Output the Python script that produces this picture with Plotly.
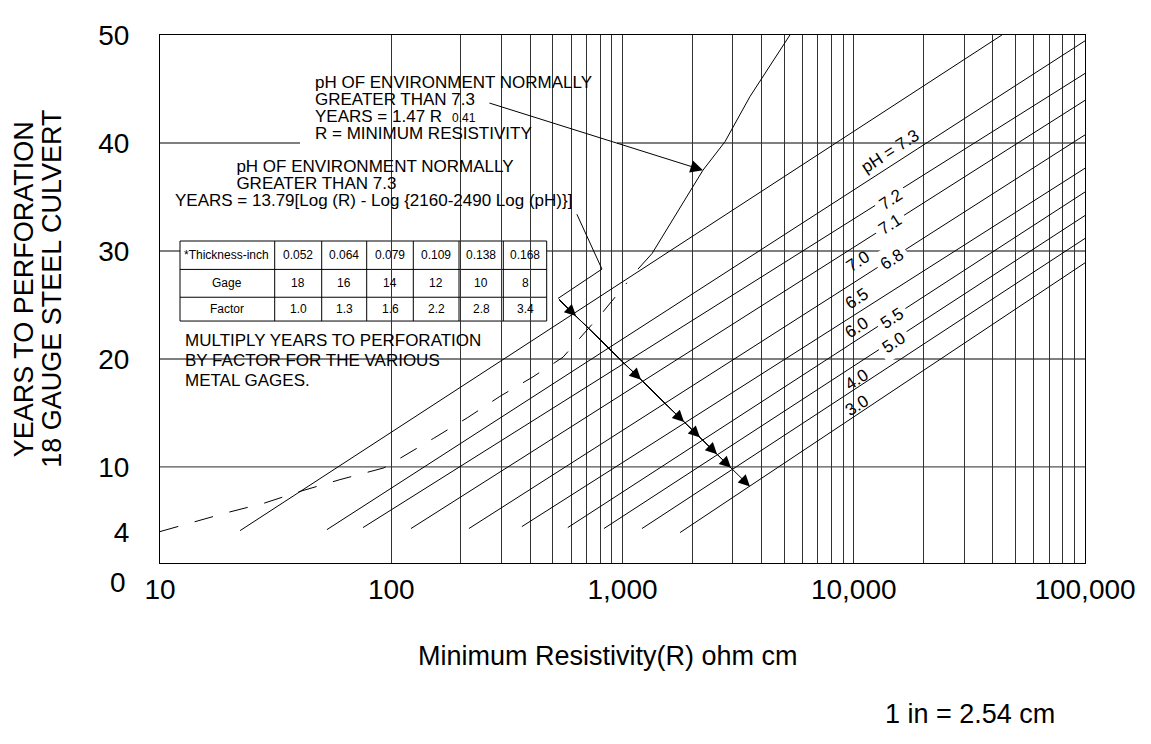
import numpy as np
import plotly.graph_objects as go

FONT = "Liberation Sans, Arial, Helvetica, sans-serif"

# ---------------- data ----------------
X_MAJOR = [10, 100, 1000, 10000, 100000]
X_MAJOR_TEXT = ["10", "100", "1,000", "10,000", "100,000"]
X_MINOR_DECADES = [100, 1000, 10000]          # decades that carry 2..9 grid lines
Y_TICKS = [4, 10, 20, 30, 40, 50]
Y_TICK_TEXT = ["4", "10", "20", "30", "40", "50"]
Y_GRID = [10, 20, 30, 40]

# straight pH lines: start (R, years) -> end (R, years)
LINE_R0 = [22.2, 52.7, 75.5, 121.7, 216.7, 367, 580, 831, 1214, 1774]
LINE_Y0 = [4.10, 4.19, 4.38, 4.29, 4.29, 4.47, 4.38, 4.29, 4.29, 3.92]
LINE_R1 = [43700, 100000, 100000, 100000, 100000, 100000, 100000, 100000, 100000, 100000]
LINE_Y1 = [50.0, 49.46, 46.44, 43.95, 40.75, 37.66, 35.46, 33.28, 31.16, 28.9]

# pH labels (ON = label interrupts its line)
PH_LABELS = ["pH = 7.3", "7.2", "7.1", "7.0", "6.8", "6.5", "6.0", "5.5", "5.0", "4.0", "3.0"]
PH_LABEL_R = [14355, 14488, 14355, 10423, 14622, 10328, 10328, 14622, 14928, 10328, 10328]
PH_LABEL_Y = [39.2, 34.76, 32.49, 29.05, 29.23, 25.6, 22.88, 23.79, 21.52, 18.07, 15.71]
PH_LABEL_ON = [False, True, True, False, True, False, False, True, True, False, False]

# pH > 7.3 curve  (YEARS = 1.47 R^0.41), dashed part and solid part
DASH_R = [10, 19.3, 28.2, 40.3, 60, 93, 152, 213, 295, 410, 553, 635, 815, 1045]
DASH_Y = [4.01, 5.74, 6.64, 7.73, 8.82, 9.91, 12.63, 14.54, 16.53, 18.34, 20.16, 21.61, 24.24, 27.05]
SOLID_R = [1167, 1343, 2228, 2773, 3556, 5297]
SOLID_Y = [28.32, 29.77, 37.48, 40.11, 44.29, 50.0]

# leader of the formula note and its multi-head arrow
LEADER_R = [635, 815, 526]
LEADER_Y = [33.40, 28.32, 25.60]
ARROW_TIP_R = [630, 1202, 1845, 2163, 2564, 2944, 3556]
ARROW_TIP_Y = [23.97, 18.07, 14.17, 12.72, 11.18, 9.91, 8.19]
NOTE1_ARROW = dict(tail_r=262, tail_y=43.74, tip_r=2228, tip_y=37.48)

# gage table
TABLE = [
    ["*Thickness-inch", "0.052", "0.064", "0.079", "0.109", "0.138", "0.168"],
    ["Gage", "18", "16", "14", "12", "10", "8"],
    ["Factor", "1.0", "1.3", "1.6", "2.2", "2.8", "3.4"],
]

# ---------------- geometry helpers (screen pixel -> paper) ----------------
L, R_, T, B = 160, 1085, 24, 563      # plot box as seen on screen
PAGE_OFFSET = 8                        # default body margin of the html page
W, H = 1151 - PAGE_OFFSET, 744 - PAGE_OFFSET


def px(xp):
    return (xp - L) / (R_ - L)


def py(yp):
    return (B - yp) / (B - T)


x_tickvals = list(X_MAJOR)
x_ticktext = list(X_MAJOR_TEXT)
for d in X_MINOR_DECADES:
    for k in range(2, 10):
        x_tickvals.append(d * k)
        x_ticktext.append("")

fig = go.Figure()

for r0, y0, r1, y1 in zip(LINE_R0, LINE_Y0, LINE_R1, LINE_Y1):
    fig.add_trace(go.Scatter(x=[r0, r1], y=[y0, y1], mode="lines",
                             line=dict(color="black", width=1), hoverinfo="skip",
                             showlegend=False))

fig.add_trace(go.Scatter(x=DASH_R, y=DASH_Y, mode="lines",
                         line=dict(color="black", width=1, dash="19px,17px"),
                         showlegend=False, hoverinfo="skip"))
fig.add_trace(go.Scatter(x=SOLID_R, y=SOLID_Y, mode="lines",
                         line=dict(color="black", width=1),
                         showlegend=False, hoverinfo="skip"))
fig.add_trace(go.Scatter(x=LEADER_R, y=LEADER_Y, mode="lines",
                         line=dict(color="black", width=1),
                         showlegend=False, hoverinfo="skip"))

ann = []


def text(t, xp, yp, size=17, xanchor="left", yanchor="middle", angle=0, align="left"):
    ann.append(dict(text=t, x=px(xp), y=py(yp), xref="paper", yref="paper",
                    xanchor=xanchor, yanchor=yanchor, showarrow=False, align=align,
                    textangle=angle, font=dict(family=FONT, size=size, color="black")))


def block(lines, xp, y_first, y_last, size=17):
    """multi-line note with a tight line pitch: the base font sets the pitch,
    a span sets the glyph size of every line."""
    n = len(lines)
    pitch = (y_last - y_first) / (n - 1)
    base = pitch / 1.3
    parts = [f"<span style='font-size:{size}px'>{ln}</span>" for ln in lines]
    ann.append(dict(text="<br>".join(parts), x=px(xp), y=py((y_first + y_last) / 2),
                    xref="paper", yref="paper", xanchor="left", yanchor="middle",
                    align="left", showarrow=False,
                    font=dict(family=FONT, size=base, color="black")))


# multi-head arrow
for tr, ty in zip(ARROW_TIP_R, ARROW_TIP_Y):
    ann.append(dict(x=np.log10(tr), y=ty, ax=np.log10(LEADER_R[-1]), ay=LEADER_Y[-1],
                    xref="x", yref="y", axref="x", ayref="y", text="",
                    showarrow=True, arrowhead=2, arrowsize=2.3, arrowwidth=1,
                    arrowcolor="black"))
# note 1 arrow
ann.append(dict(x=np.log10(NOTE1_ARROW["tip_r"]), y=NOTE1_ARROW["tip_y"],
                ax=np.log10(NOTE1_ARROW["tail_r"]), ay=NOTE1_ARROW["tail_y"],
                xref="x", yref="y", axref="x", ayref="y", text="",
                showarrow=True, arrowhead=2, arrowsize=2.5, arrowwidth=1,
                arrowcolor="black"))

# pH labels
for lab, r, y, on in zip(PH_LABELS, PH_LABEL_R, PH_LABEL_Y, PH_LABEL_ON):
    ann.append(dict(text=lab, x=np.log10(r), y=y, xref="x", yref="y",
                    showarrow=False, textangle=-33,
                    bgcolor="white" if on else "rgba(0,0,0,0)", borderpad=4 if on else 0,
                    font=dict(family=FONT, size=17, color="black")))

# notes
IND = "&nbsp;" * 13
block(["pH OF ENVIRONMENT NORMALLY", "GREATER THAN 7.3",
       "YEARS = 1.47 R", "R = MINIMUM RESISTIVITY"], 313, 73.5, 124.5)
text("0.41", 450, 108.5, size=12)
block([IND + "pH OF ENVIRONMENT NORMALLY", IND + "GREATER THAN 7.3",
       "YEARS = 13.79[Log (R) - Log {2160-2490 Log (pH)}]"], 173, 159, 193)
block(["MULTIPLY YEARS TO PERFORATION", "BY FACTOR FOR THE VARIOUS",
       "METAL GAGES."], 183, 336, 376)

# table + background shapes
col_x = [180, 274.7, 321.7, 366.7, 413.3, 459, 503.3, 546.7]
row_y = [234.3, 263.3, 291.7, 316]
shapes = []
for v in Y_GRID:
    shapes.append(dict(type="line", xref="paper", yref="y", x0=0, x1=1, y0=v, y1=v,
                       line=dict(color="#555555", width=1.4), layer="below"))
shapes.append(dict(type="rect", xref="paper", yref="paper", x0=px(300), x1=px(617),
                   y0=py(146), y1=py(57), fillcolor="white", line=dict(width=0), layer="between"))
shapes.append(dict(type="rect", xref="paper", yref="paper", x0=px(170), x1=px(617),
                   y0=py(222), y1=py(146), fillcolor="white", line=dict(width=0), layer="between"))
shapes.append(dict(type="rect", xref="paper", yref="paper", x0=px(col_x[0]), x1=px(col_x[-1]),
                   y0=py(row_y[-1]), y1=py(row_y[0]), fillcolor="white",
                   line=dict(color="black", width=1), layer="between"))
for yy in row_y[1:-1]:
    shapes.append(dict(type="line", xref="paper", yref="paper", x0=px(col_x[0]), x1=px(col_x[-1]),
                       y0=py(yy), y1=py(yy), line=dict(color="black", width=1), layer="between"))
for xx in col_x[1:-1]:
    shapes.append(dict(type="line", xref="paper", yref="paper", x0=px(xx), x1=px(xx),
                       y0=py(row_y[-1]), y1=py(row_y[0]), line=dict(color="black", width=1), layer="between"))
for i, row in enumerate(TABLE):
    yc = (row_y[i] + row_y[i + 1]) / 2
    for j, cell in enumerate(row):
        xc = (col_x[j] + col_x[j + 1]) / 2
        if i == 0 and j == 0:
            text(cell, col_x[0] + 1.5, yc, size=12, xanchor="left")
        else:
            text(cell, xc, yc, size=12, xanchor="center", align="center")

# axis titles and extra texts
text("YEARS TO PERFORATION", 24, 283.5, size=27, xanchor="center", angle=-90, align="center")
text("18 GAUGE STEEL CULVERT", 52.5, 283.5, size=27, xanchor="center", angle=-90, align="center")
text("0", 118, 583, size=28, xanchor="center", align="center")
text("Minimum Resistivity(R) ohm cm", 608, 658, size=27, xanchor="center", align="center")
text("1 in = 2.54 cm", 970, 717, size=27, xanchor="center", align="center")

fig.update_layout(
    width=W, height=H,
    margin=dict(l=L - PAGE_OFFSET, r=W - (R_ - PAGE_OFFSET), t=T - PAGE_OFFSET,
                b=H - (B - PAGE_OFFSET), pad=0),
    paper_bgcolor="white", plot_bgcolor="white",
    showlegend=False,
    annotations=ann, shapes=shapes,
    xaxis=dict(type="log", range=[1, 5], tickvals=x_tickvals, ticktext=x_ticktext,
               showgrid=True, gridcolor="#333333", gridwidth=1,
               showline=True, linecolor="black", linewidth=1, mirror=True,
               ticks="", ticklabelstandoff=1, zeroline=False,
               tickfont=dict(family=FONT, size=28, color="black")),
    yaxis=dict(range=[1.1, 50], tickvals=Y_TICKS, ticktext=Y_TICK_TEXT,
               showgrid=False, showline=True, linecolor="black", linewidth=1, mirror=True,
               ticks="", ticklabelstandoff=24, zeroline=False,
               tickfont=dict(family=FONT, size=28, color="black")),
)

fig.write_html("out.html")
